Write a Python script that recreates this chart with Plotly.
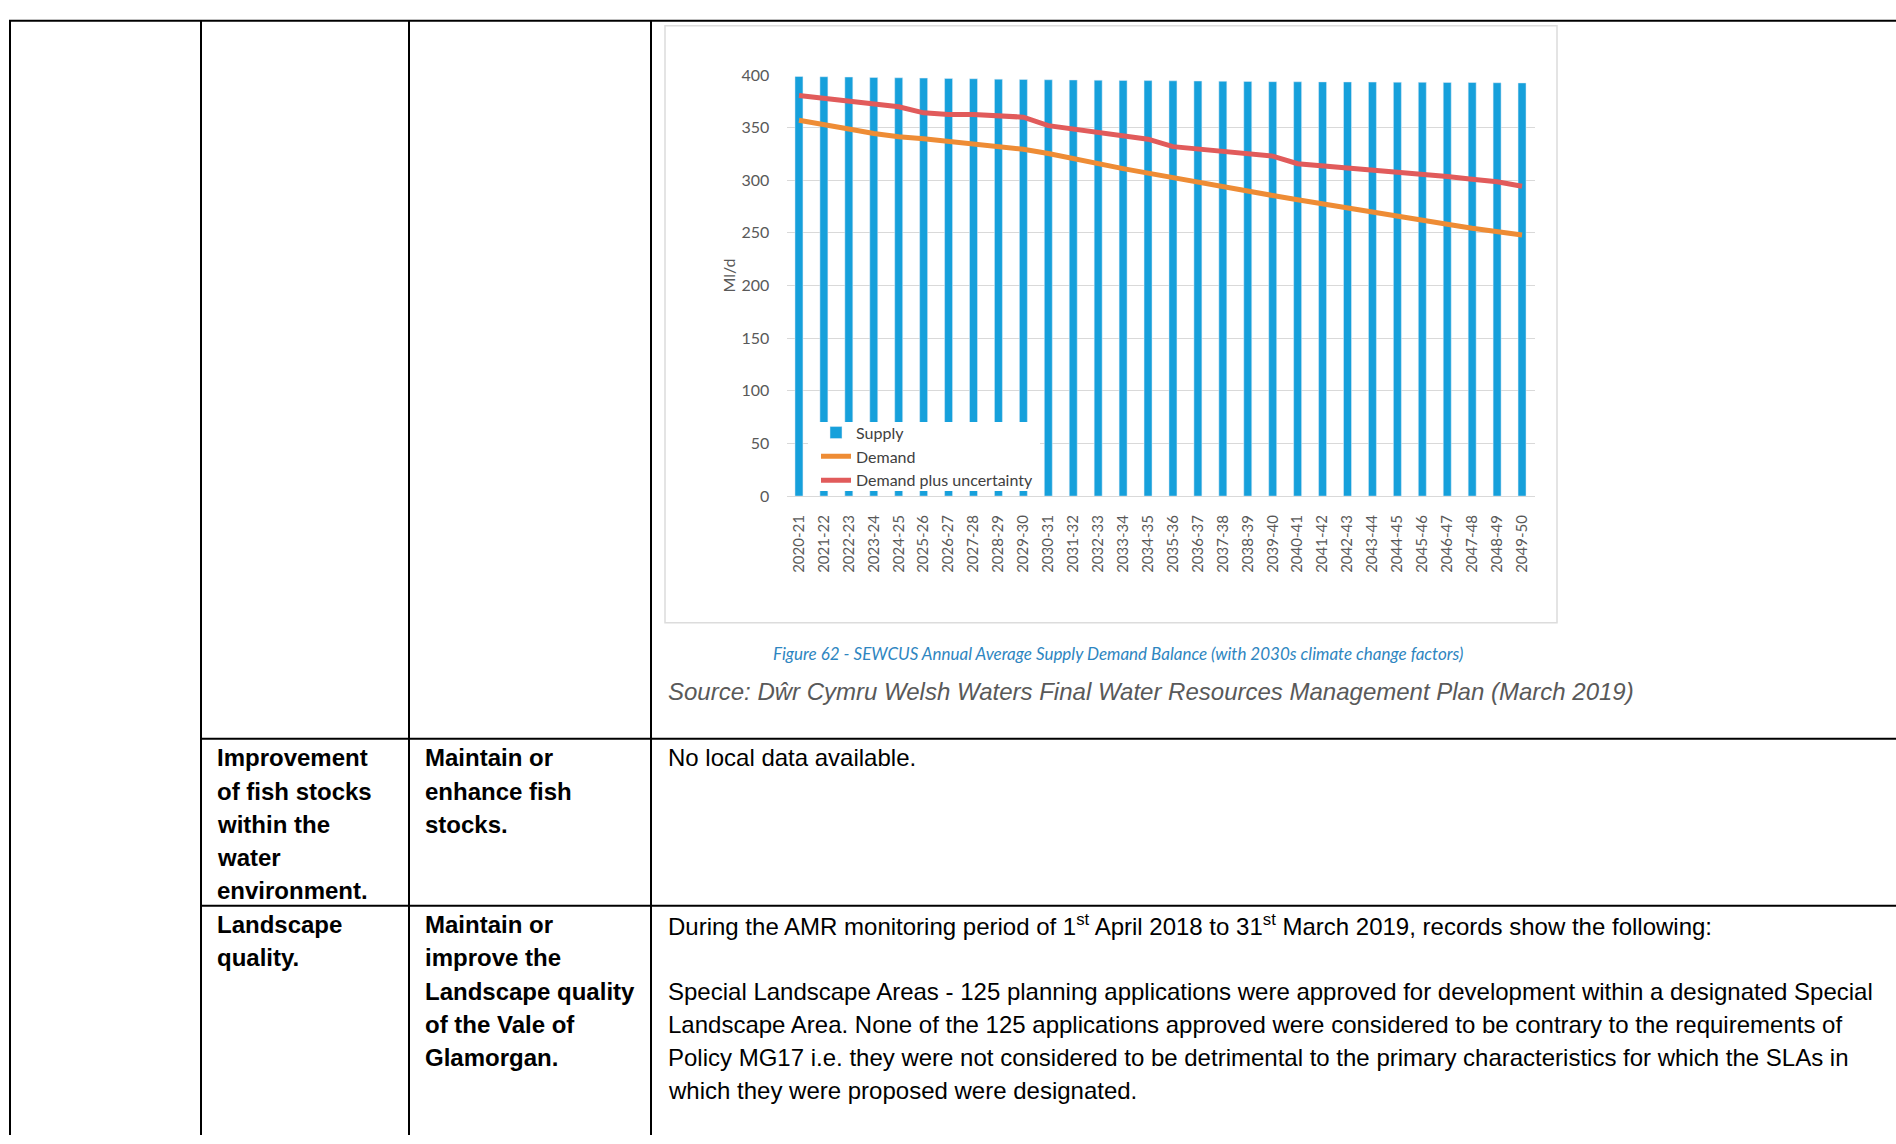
import plotly.graph_objects as go

W, H = 1896, 1144

# ---------------- data ----------------
years = ["2020-21", "2021-22", "2022-23", "2023-24", "2024-25", "2025-26", "2026-27",
         "2027-28", "2028-29", "2029-30", "2030-31", "2031-32", "2032-33", "2033-34",
         "2034-35", "2035-36", "2036-37", "2037-38", "2038-39", "2039-40", "2040-41",
         "2041-42", "2042-43", "2043-44", "2044-45", "2045-46", "2046-47", "2047-48",
         "2048-49", "2049-50"]

supply = [398.5, 398.3, 398.0, 397.6, 397.3, 397.0, 396.7, 396.4, 396.0, 395.7,
          395.4, 395.2, 395.0, 394.8, 394.6, 394.4, 394.2, 394.0, 393.8, 393.6,
          393.5, 393.4, 393.3, 393.2, 393.1, 393.0, 392.9, 392.8, 392.6, 392.4]

demand = [357.0, 353.3, 348.7, 344.3, 341.2, 339.3, 336.9, 334.7, 332.5, 329.4,
          325.4, 320.4, 315.7, 311.0, 306.7, 302.3, 298.0, 293.9, 289.9, 285.5,
          281.5, 277.8, 273.7, 269.7, 265.9, 262.0, 258.2, 254.4, 251.0, 247.9]

demand_unc = [380.5, 378.0, 375.0, 372.0, 369.8, 364.0, 362.4, 362.3, 361.1, 359.9,
              351.8, 348.7, 345.9, 342.8, 339.0, 331.9, 329.7, 327.5, 325.7, 322.9,
              315.7, 313.8, 311.7, 310.0, 307.9, 305.8, 303.6, 301.0, 298.5, 294.3]

y_ticks = [0, 50, 100, 150, 200, 250, 300, 350, 400]

caption = "Figure 62 - SEWCUS Annual Average Supply Demand Balance (with 2030s climate change factors)"
source = "Source: Dŵr Cymru Welsh Waters Final Water Resources Management Plan (March 2019)"

row1_col2 = ["Improvement", "of fish stocks", "within the", "water", "environment."]
row1_col3 = ["Maintain or", "enhance fish", "stocks."]
row1_col4 = ["No local data available."]
row2_col2 = ["Landscape", "quality."]
row2_col3 = ["Maintain or", "improve the", "Landscape quality", "of the Vale of", "Glamorgan."]
row2_col4 = ["During the AMR monitoring period of 1<sup>st</sup> April 2018 to 31<sup>st</sup> March 2019, records show the following:",
             "",
             "Special Landscape Areas - 125 planning applications were approved for development within a designated Special",
             "Landscape Area. None of the 125 applications approved were considered to be contrary to the requirements of",
             "Policy MG17 i.e. they were not considered to be detrimental to the primary characteristics for which the SLAs in",
             "which they were proposed were designated."]

# ---------------- helpers (page pixel -> paper fraction) ----------------
def px(x):
    return x / W

def py(y):
    return 1 - y / H

BLUE = "#16A0DB"
ORANGE = "#EE8C35"
RED = "#E15B5B"
TICK = "#595959"
CHART_FONT = "Lato, Open Sans, sans-serif"
DOC_FONT = "Liberation Sans, Arial, sans-serif"

fig = go.Figure()
fig.add_trace(go.Bar(x=years, y=supply, name="Supply", marker_color=BLUE, width=0.32))
fig.add_trace(go.Scatter(x=years, y=demand, name="Demand", mode="lines",
                         line=dict(color=ORANGE, width=5)))
fig.add_trace(go.Scatter(x=years, y=demand_unc, name="Demand plus uncertainty", mode="lines",
                         line=dict(color=RED, width=5)))

plot_x0, plot_x1 = 786.5, 1534.5
plot_y0, plot_y1 = 65.7, 494.3

fig.update_layout(
    width=W, height=H, autosize=False,
    margin=dict(l=0, r=0, t=0, b=0),
    paper_bgcolor="white", plot_bgcolor="white",
    showlegend=True,
    legend=dict(x=px(816), y=py(412.5), xanchor="left", yanchor="top",
                bgcolor="rgba(0,0,0,0)", borderwidth=0,
                font=dict(family=CHART_FONT, size=16, color="#404040"),
                itemclick=False),
    xaxis=dict(domain=[px(plot_x0), px(plot_x1)], type="category",
               tickangle=-90, tickfont=dict(family=CHART_FONT, size=15, color=TICK),
               ticks="outside", ticklen=12, tickcolor="rgba(0,0,0,0)",
               showgrid=False, showline=True, linecolor="#d9d9d9", linewidth=1,
               anchor="y"),
    yaxis=dict(domain=[py(plot_y1), py(plot_y0)], range=[0, 400.3],
               tickvals=y_ticks, tickfont=dict(family=CHART_FONT, size=16, color=TICK),
               showgrid=True, gridcolor="#d9d9d9", gridwidth=1, zeroline=False,
               ticks="outside", ticklen=13, tickcolor="rgba(0,0,0,0)",
               showline=False, anchor="x"),
    bargap=0.68,
)

shapes = []
def line(x0, y0, x1, y1, color="black", width=2):
    shapes.append(dict(type="line", xref="paper", yref="paper",
                       x0=px(x0), y0=py(y0), x1=px(x1), y1=py(y1),
                       line=dict(color=color, width=width)))

# chart image frame
shapes.append(dict(type="rect", xref="paper", yref="paper", layer="below",
                   x0=px(665), y0=py(623), x1=px(1557), y1=py(16),
                   line=dict(color="#dcdcdc", width=1.5), fillcolor="rgba(0,0,0,0)"))

# legend background box (covers the bars behind the legend, as in the original)
shapes.append(dict(type="rect", xref="paper", yref="paper", layer="above",
                   x0=px(808), y0=py(489), x1=px(1040), y1=py(419),
                   line=dict(width=0), fillcolor="white"))

# table borders
line(9, 11, W, 11)
line(10, 11, 10, H)
line(201, 11, 201, H)
line(409, 11, 409, H)
line(651, 11, 651, H)
line(201, 741, W, 741)
line(201, 911, W, 911)

fig.update_layout(shapes=shapes)

annotations = []
def text(x, y, s, size=24, color="black", family=DOC_FONT, anchor="left"):
    annotations.append(dict(xref="paper", yref="paper", x=px(x), y=py(y), text=s,
                            showarrow=False, xanchor=anchor, yanchor="middle",
                            font=dict(family=family, size=size, color=color)))

# y-axis title
annotations.append(dict(xref="paper", yref="paper", x=px(729), y=py(270), text="Ml/d",
                        textangle=-90, showarrow=False, xanchor="center", yanchor="middle",
                        font=dict(family=CHART_FONT, size=16, color=TICK)))

text(1118, 654, "<i>" + caption + "</i>", size=17, color="#2E86C1", family=CHART_FONT, anchor="center")
text(666, 693, "<i>" + source + "</i>", size=24, color="#595959")

LH = 33.8
R1, R2 = 760.5, 930
for i, s in enumerate(row1_col2):
    text(215, R1 + i * LH, "<b>" + s + "</b>")
for i, s in enumerate(row1_col3):
    text(423, R1 + i * LH, "<b>" + s + "</b>")
for i, s in enumerate(row1_col4):
    text(666, R1 + i * LH, s)
for i, s in enumerate(row2_col2):
    text(215, R2 + i * LH, "<b>" + s + "</b>")
for i, s in enumerate(row2_col3):
    text(423, R2 + i * LH, "<b>" + s + "</b>")
for i, s in enumerate(row2_col4):
    if s:
        text(666, R2 + i * LH, s)

fig.update_layout(annotations=annotations)

fig.write_html("out.html")
